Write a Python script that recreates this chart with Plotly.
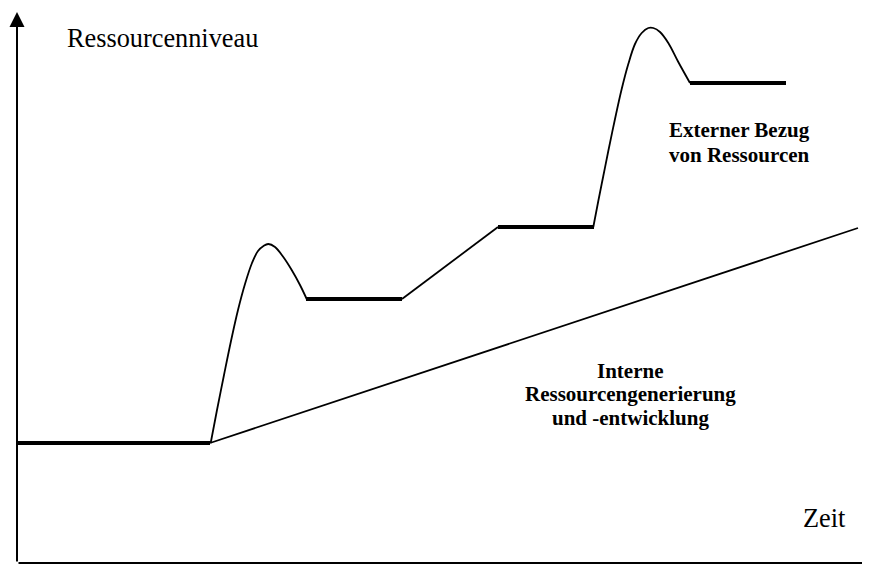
import plotly.graph_objects as go

basis_zeit = [17, 210]
basis_niveau = [125, 125]

sprung1_zeit = [210.7, 217, 224, 231, 238, 245, 252, 258, 263.5, 268.3, 275, 283.3, 291.7, 300, 306.7]
sprung1_niveau = [125, 158, 193, 227, 258, 284, 305, 317, 322, 324, 321, 311, 298, 283, 269]

plateau1_zeit = [306, 402]
plateau1_niveau = [269, 269]

rampe_zeit = [402, 498]
rampe_niveau = [269, 341]

plateau2_zeit = [498, 594]
plateau2_niveau = [341, 341]

sprung2_zeit = [593.3, 598.3, 603.3, 608.3, 615, 621.7, 628.3, 635, 641.7, 648.3, 653.3, 660, 668.3, 678.3, 690]
sprung2_niveau = [341, 367, 392, 417, 449, 479, 504, 524, 535, 540, 540, 536, 525, 506, 485]

plateau3_zeit = [690, 786]
plateau3_niveau = [485, 485]

intern_zeit = [210, 858]
intern_niveau = [125, 340]

FONT = "Liberation Serif, Times New Roman, serif"
THIN = 1.8
THICK = 4


def line(x, y, width, spline=False):
    return go.Scatter(
        x=x, y=y, mode="lines",
        line=dict(color="black", width=width,
                  shape="spline" if spline else "linear", smoothing=1),
        hoverinfo="skip", showlegend=False,
    )


fig = go.Figure()
fig.add_trace(line(intern_zeit, intern_niveau, THIN))
fig.add_trace(line(sprung1_zeit, sprung1_niveau, THIN, spline=True))
fig.add_trace(line(rampe_zeit, rampe_niveau, THIN))
fig.add_trace(line(sprung2_zeit, sprung2_niveau, THIN, spline=True))
fig.add_trace(line(basis_zeit, basis_niveau, THICK))
fig.add_trace(line(plateau1_zeit, plateau1_niveau, THICK))
fig.add_trace(line(plateau2_zeit, plateau2_niveau, THICK))
fig.add_trace(line(plateau3_zeit, plateau3_niveau, THICK))

# Achsen als Pfeile
for tip, tail in [((17, 556), (17, 5)), ((882, 5), (17, 5))]:
    fig.add_annotation(
        x=tip[0], y=tip[1], ax=tail[0], ay=tail[1],
        xref="x", yref="y", axref="x", ayref="y",
        showarrow=True, arrowhead=2, arrowsize=1.5, arrowwidth=2,
        arrowcolor="black", text="",
    )


def label(text, x, y, size, anchor="center"):
    fig.add_annotation(x=x, y=y, xref="x", yref="y", text=text,
                       showarrow=False, xanchor=anchor, yanchor="middle",
                       font=dict(family=FONT, size=size, color="black"))


label("Ressourcenniveau", 65, 530, 26.3, "left")
label("Zeit", 801, 50, 26.3, "left")
label("<b>Externer Bezug</b>", 739, 438, 21)
label("<b>von Ressourcen</b>", 739, 413, 21)
label("<b>Interne</b>", 630, 197, 21)
label("<b>Ressourcengenerierung</b>", 630, 174, 21)
label("<b>und -entwicklung</b>", 630, 150, 21)

# Seite hat 8px Rand: Figur passend verkleinert, Achsen in Bildkoordinaten
fig.update_layout(
    width=862, height=560,
    margin=dict(l=0, r=0, t=0, b=0),
    paper_bgcolor="white", plot_bgcolor="white",
    xaxis=dict(range=[8, 870], visible=False, fixedrange=True),
    yaxis=dict(range=[0, 560], visible=False, fixedrange=True),
)

fig.write_html("out.html")
